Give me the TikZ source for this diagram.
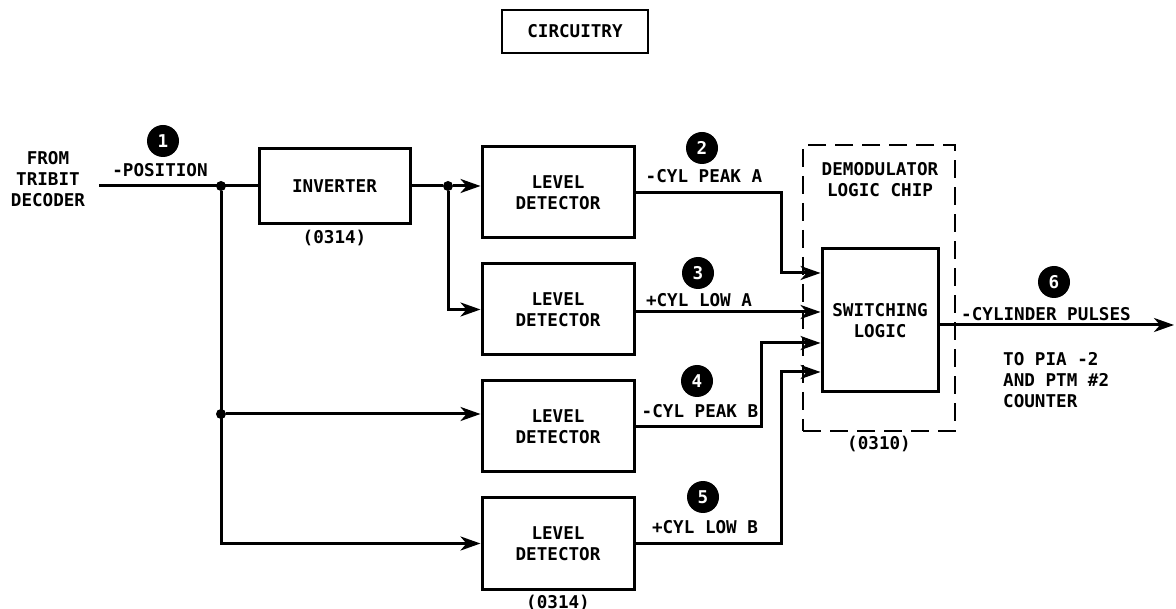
\documentclass[tikz,border=0pt]{standalone}
\usepackage{fontspec}
\setmainfont{DejaVu Sans Mono}
\usetikzlibrary{positioning, arrows.meta, calc}

\begin{document}
\begin{tikzpicture}[
    x=1pt, y=-1pt,
    font=\fontsize{17.6}{21}\selectfont\bfseries,
    blk/.style={
        draw, line width=3pt, align=center, inner sep=0pt,
        minimum width=152pt, minimum height=91pt
      },
    chipbox/.style={
        draw, line width=2.6pt, dash pattern=on 18pt off 9pt, inner sep=0pt,
        minimum width=152pt, minimum height=286pt
      },
    tag/.style={circle, fill=black, text=white, inner sep=0pt, minimum size=32pt},
    lbl/.style={inner sep=0pt, anchor=base},
    dot/.style={circle, fill=black, inner sep=0pt, minimum size=10pt},
    wire/.style={line width=3pt},
    sig/.style={line width=3pt, -{Stealth[length=20pt, width=14pt, inset=6pt]}},
    node distance=23pt
  ]
  \useasboundingbox (0,0) rectangle (1176,609);

  \node[blk, minimum width=146pt, minimum height=43pt, line width=2.6pt] (title) at (575,31.5) {CIRCUITRY};

  % input and inverter
  \node[align=center, inner sep=0pt] (src) at (48,179) {FROM\\TRIBIT\\DECODER};
  \coordinate (srcout) at (99,186);
  \node[blk, minimum width=151pt, minimum height=75pt] (inv) at (334.5,186) {INVERTER};
  \node[inner sep=0pt, below=5pt of inv] (invnum) {(0314)};
  \node[dot] (j1) at (221,186) {};
  \node[dot] (j2) at (448,186) {};
  \node[dot] (j3) at (221,414) {};

  % level detectors
  \node[blk] (ld1) at (558,192.5) {LEVEL\\DETECTOR};
  \node[blk, below=of ld1] (ld2) {LEVEL\\DETECTOR};
  \node[blk, below=of ld2] (ld3) {LEVEL\\DETECTOR};
  \node[blk, below=of ld3] (ld4) {LEVEL\\DETECTOR};
  \node[inner sep=0pt, below=4pt of ld4] (ldnum) {(0314)};

  \draw[wire] (srcout) -- (inv.west);
  \draw[wire] (inv.east) -- (j2);
  \draw[sig] (j2) -- (j2 -| ld1.west);
  \draw[sig] (j2) |- (ld2.west);
  \draw[sig] (j1) |- (ld4.west);
  \draw[sig] (j3) -- (j3 -| ld3.west);

  % demodulator logic chip
  \node[chipbox] (chip) at (879,288) {};
  \node[align=center, inner sep=0pt] (chipname) at (880,180) {DEMODULATOR\\LOGIC CHIP};
  \node[inner sep=0pt, below=4pt of chip] (chipnum) {(0310)};
  \node[blk, minimum width=116pt, minimum height=143pt] (sl) at (880,320.5) {SWITCHING\\LOGIC};

  \coordinate (in1) at (sl.west |- 0,273);
  \coordinate (in2) at (sl.west |- 0,312);
  \coordinate (in3) at (sl.west |- 0,343);
  \coordinate (in4) at (sl.west |- 0,372);
  \coordinate (dest) at (1174,325);

  \draw[sig] (ld1.east) -| ([xshift=-39pt]in1) -- (in1);
  \draw[sig] (ld2.east |- in2) -- (in2);
  \draw[sig] (ld3.east) -| ([xshift=-59pt]in3) -- (in3);
  \draw[sig] (ld4.east) -| ([xshift=-39pt]in4) -- (in4);
  \draw[sig] (sl.east |- dest) -- (dest);

  % signal names and test points
  \node[lbl] (pos) at (160,177) {-POSITION};
  \node[tag] (tp1) at (163,141) {1};
  \node[lbl] (peaka) at (704,183) {-CYL PEAK A};
  \node[tag] (tp2) at (702,148) {2};
  \node[lbl] (lowa) at (699,307) {+CYL LOW A};
  \node[tag] (tp3) at (698,273) {3};
  \node[lbl] (peakb) at (700,418) {-CYL PEAK B};
  \node[tag] (tp4) at (697,381) {4};
  \node[lbl] (lowb) at (705,533) {+CYL LOW B};
  \node[tag] (tp5) at (703,497) {5};
  \node[lbl] (pulses) at (1046,321) {-CYLINDER PULSES};
  \node[tag] (tp6) at (1054,282) {6};
  \node[align=left, anchor=north west, inner sep=0pt] (dst) at (1003,352) {TO PIA -2\\AND PTM \#2\\COUNTER};

\end{tikzpicture}
\end{document}
